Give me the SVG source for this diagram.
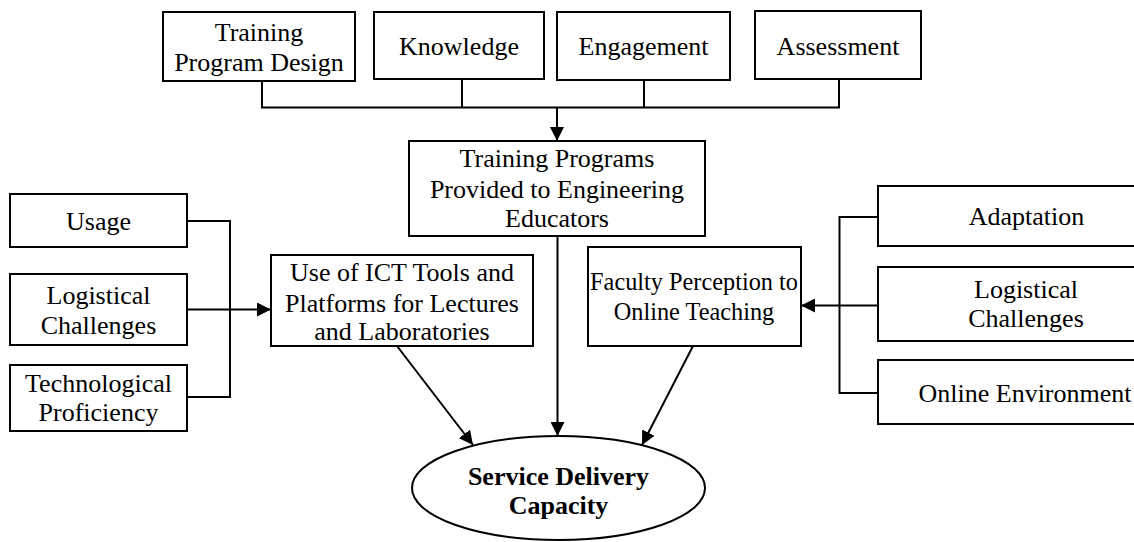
<svg xmlns="http://www.w3.org/2000/svg" width="1134" height="542" viewBox="0 0 1134 542">
  <style>
    .box { fill: #ffffff; stroke: #000000; stroke-width: 2; }
    .lbl { font-family: "Liberation Serif", "Times New Roman", serif; font-size: 26px; fill: #000000; text-anchor: middle; }
    .small { font-size: 24.3px; }
    .bold { font-weight: bold; }
    .wire { fill: none; stroke: #000000; stroke-width: 2; }
  </style>
  <defs>
    <marker id="arrow" viewBox="0 0 14 14" refX="14" refY="7" markerWidth="14" markerHeight="14" markerUnits="userSpaceOnUse" orient="auto">
      <path d="M0,0 L14,7 L0,14 Z" fill="#000000"/>
    </marker>
  </defs>
  <rect width="1134" height="542" fill="#ffffff"/>

  <!-- connectors -->
  <g id="connectors">
    <!-- top row bus into training programs -->
    <path class="wire" d="M262,81 V107.5 H839 V79"/>
    <path class="wire" d="M462,79 V107.5"/>
    <path class="wire" d="M644,80 V107.5"/>
    <path class="wire" d="M557,107.5 V141" marker-end="url(#arrow)"/>
    <!-- left bracket into ICT box -->
    <path class="wire" d="M187,221 H230 V397 H187"/>
    <path class="wire" d="M187,309.5 H271" marker-end="url(#arrow)"/>
    <!-- right bracket into faculty box -->
    <path class="wire" d="M878,217 H839.5 V393 H878"/>
    <path class="wire" d="M878,305.5 H801" marker-end="url(#arrow)"/>
    <!-- into service delivery capacity -->
    <path class="wire" d="M397,346 L473,445" marker-end="url(#arrow)"/>
    <path class="wire" d="M557.5,236 V436" marker-end="url(#arrow)"/>
    <path class="wire" d="M693,346 L642,445" marker-end="url(#arrow)"/>
  </g>

  <g id="training-program-design">
    <rect class="box" x="163" y="12" width="192" height="69"/>
    <text class="lbl" x="259" y="41">Training</text>
    <text class="lbl" x="259" y="71">Program Design</text>
  </g>
  <g id="knowledge">
    <rect class="box" x="374" y="12" width="170" height="67"/>
    <text class="lbl" x="459" y="55">Knowledge</text>
  </g>
  <g id="engagement">
    <rect class="box" x="557" y="12" width="173" height="68"/>
    <text class="lbl" x="643.5" y="55">Engagement</text>
  </g>
  <g id="assessment">
    <rect class="box" x="755" y="11" width="166" height="68"/>
    <text class="lbl" x="838" y="55">Assessment</text>
  </g>

  <g id="training-programs">
    <rect class="box" x="409" y="141" width="296" height="95"/>
    <text class="lbl" x="557" y="167">Training Programs</text>
    <text class="lbl" x="557" y="198">Provided to Engineering</text>
    <text class="lbl" x="557" y="227">Educators</text>
  </g>

  <g id="usage">
    <rect class="box" x="10" y="194" width="177" height="53"/>
    <text class="lbl" x="98.5" y="230">Usage</text>
  </g>
  <g id="logistical-challenges-left">
    <rect class="box" x="10" y="274" width="177" height="71"/>
    <text class="lbl" x="98.5" y="304">Logistical</text>
    <text class="lbl" x="98.5" y="334">Challenges</text>
  </g>
  <g id="technological-proficiency">
    <rect class="box" x="10" y="365" width="177" height="66"/>
    <text class="lbl" x="98.5" y="392">Technological</text>
    <text class="lbl" x="98.5" y="421">Proficiency</text>
  </g>

  <g id="ict-tools">
    <rect class="box" x="271" y="255" width="262" height="91"/>
    <text class="lbl" x="402" y="281">Use of ICT Tools and</text>
    <text class="lbl" x="402" y="311.5">Platforms for Lectures</text>
    <text class="lbl" x="402" y="340">and Laboratories</text>
  </g>

  <g id="faculty-perception">
    <rect class="box" x="588" y="247" width="213" height="99"/>
    <text class="lbl small" x="694" y="290">Faculty Perception to</text>
    <text class="lbl small" x="694" y="320">Online Teaching</text>
  </g>

  <g id="adaptation">
    <rect class="box" x="878" y="186" width="300" height="60"/>
    <text class="lbl" x="1026.5" y="225">Adaptation</text>
  </g>
  <g id="logistical-challenges-right">
    <rect class="box" x="878" y="267" width="300" height="74"/>
    <text class="lbl" x="1026" y="298">Logistical</text>
    <text class="lbl" x="1026" y="327">Challenges</text>
  </g>
  <g id="online-environment">
    <rect class="box" x="878" y="360" width="300" height="64"/>
    <text class="lbl" x="1025" y="401.5">Online Environment</text>
  </g>

  <g id="service-delivery-capacity">
    <ellipse class="box" cx="558.5" cy="488" rx="146.5" ry="52"/>
    <text class="lbl bold" x="558.5" y="485">Service Delivery</text>
    <text class="lbl bold" x="558.5" y="514">Capacity</text>
  </g>
</svg>
